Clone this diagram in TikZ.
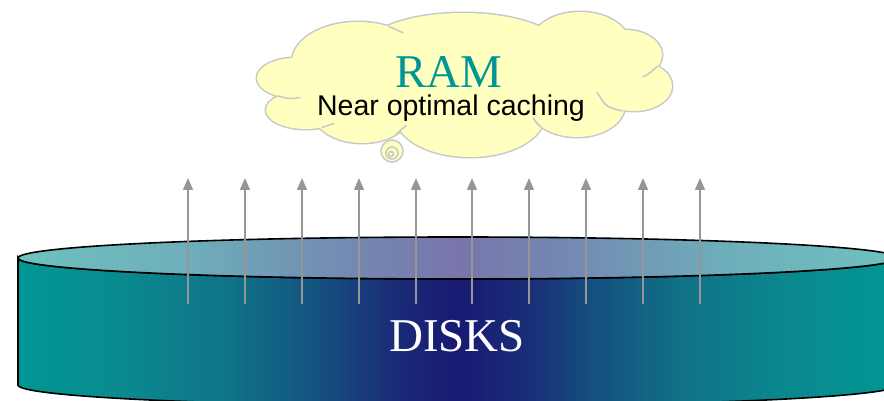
\documentclass[tikz,border=0pt]{standalone}
\usepackage{fontspec}
\setmainfont{Liberation Serif}
\newfontfamily\labelsans{Liberation Sans}
\usetikzlibrary{arrows.meta}

\definecolor{cloudfill}{RGB}{255,255,192}
\definecolor{cloudline}{RGB}{200,200,200}
\definecolor{arrowgrey}{RGB}{150,150,150}
\definecolor{ramteal}{RGB}{0,150,150}

% side wall: teal at both ends, deep navy in the middle
\pgfdeclarehorizontalshading{diskwall}{100bp}{
  rgb(0bp)=(0,0.59,0.58);
  rgb(25bp)=(0,0.59,0.58);
  rgb(31bp)=(0.04,0.54,0.56);
  rgb(37bp)=(0.06,0.45,0.53);
  rgb(42bp)=(0.08,0.32,0.50);
  rgb(46bp)=(0.10,0.18,0.47);
  rgb(50bp)=(0.10,0.10,0.45);
  rgb(54bp)=(0.10,0.18,0.47);
  rgb(58bp)=(0.08,0.32,0.50);
  rgb(63bp)=(0.06,0.45,0.53);
  rgb(69bp)=(0.04,0.54,0.56);
  rgb(75bp)=(0,0.59,0.58);
  rgb(100bp)=(0,0.59,0.58)}
% lid: pale teal at both ends, greyish mauve in the middle
\pgfdeclarehorizontalshading{disklid}{100bp}{
  rgb(0bp)=(0.43,0.76,0.75);
  rgb(25bp)=(0.43,0.76,0.75);
  rgb(35bp)=(0.43,0.68,0.73);
  rgb(43bp)=(0.45,0.55,0.70);
  rgb(50bp)=(0.47,0.46,0.67);
  rgb(57bp)=(0.45,0.55,0.70);
  rgb(65bp)=(0.43,0.68,0.73);
  rgb(75bp)=(0.43,0.76,0.75);
  rgb(100bp)=(0.43,0.76,0.75)}

\tikzset{
  puffline/.style={draw=cloudline, line width=3pt},
  pufffill/.style={fill=cloudfill},
  stub/.style={draw=cloudline, line width=1.5pt, line cap=round},
  bubble/.style={draw=cloudline, line width=1.5pt, fill=cloudfill},
  uparrow/.style={draw=arrowgrey, line width=1.6pt,
    -{Triangle[width=10pt,length=12pt]}},
  rimline/.style={draw=black, line width=1.6pt},
  cloudtext/.style={anchor=base, inner sep=0pt}
}

\begin{document}
\begin{tikzpicture}[x=1pt,y=-1pt]
\useasboundingbox (0,0) rectangle (884,401);

% disk stack: side wall
\path[shading=diskwall, rimline]
  (18,258) -- (18,385) arc[start angle=180, end angle=360, x radius=440, y radius=-21]
  -- (898,258) arc[start angle=0, end angle=180, x radius=440, y radius=21] -- cycle;
% lid of the stack
\path[shading=disklid, rimline]
  (458,258) ellipse[x radius=440, y radius=21];

\node[text=white, font=\fontsize{47}{50}\selectfont] (disks) at (457,336) {DISKS};

% transfer arrows from the disks up to memory
\foreach \i/\x in {1/188,2/245,3/302,4/359,5/416,6/472,7/529,8/586,9/643,10/700}{
  \coordinate (b\i) at (\x,304);
  \coordinate (t\i) at (\x,178);
  \draw[uparrow] (b\i) -- (t\i);
}

% memory cloud: outline of the puffs first, then their fill over it
\def\puffs{
  (295,78) ellipse[x radius=38, y radius=20]
  (306,110) ellipse[x radius=40, y radius=19]
  (358,62) ellipse[x radius=66, y radius=40]
  (463,51) ellipse[x radius=100, y radius=38]
  (580,45) ellipse[x radius=50, y radius=33]
  (625,55) ellipse[x radius=37, y radius=25]
  (634,86) ellipse[x radius=38, y radius=25]
  (577,105) ellipse[x radius=48, y radius=32]
  (470,115) ellipse[x radius=75, y radius=42]
  (362,110) ellipse[x radius=50, y radius=33]}
\path[puffline] \puffs;
\path[pufffill] \puffs;
\path[pufffill] (462,82) ellipse[x radius=160, y radius=52];
\coordinate (ram) at (462,82);
% small inner creases where the puffs meet
\draw[stub] (278,96) .. controls (289,99) .. (300,97.5);
\draw[stub] (389,26.5) .. controls (396,29.2) .. (403,32.8);
\draw[stub] (657,66.5) .. controls (650,73) .. (643,76.8);
\draw[stub] (623,111) .. controls (606,107) .. (597,92);
\draw[stub] (541,127) .. controls (537,123.5) .. (533,118);
\draw[stub] (322,127.5) .. controls (328,126.2) .. (334,123.5);
\draw[stub] (396,134.2) .. controls (401,130.5) .. (406,125.7);

% thought bubble under the cloud
\draw[bubble] (392,151) circle[radius=11];
\draw[bubble] (392,153) circle[radius=6];
\draw[bubble] (391,154) circle[radius=2.5];

\node[cloudtext, text=ramteal, font=\fontsize{47}{50}\selectfont] (ramlabel) at (449,88) {RAM};
\node[cloudtext, font=\labelsans\fontsize{28.5}{32}\selectfont] (caching) at (451,116) {Near optimal caching};
\end{tikzpicture}
\end{document}
